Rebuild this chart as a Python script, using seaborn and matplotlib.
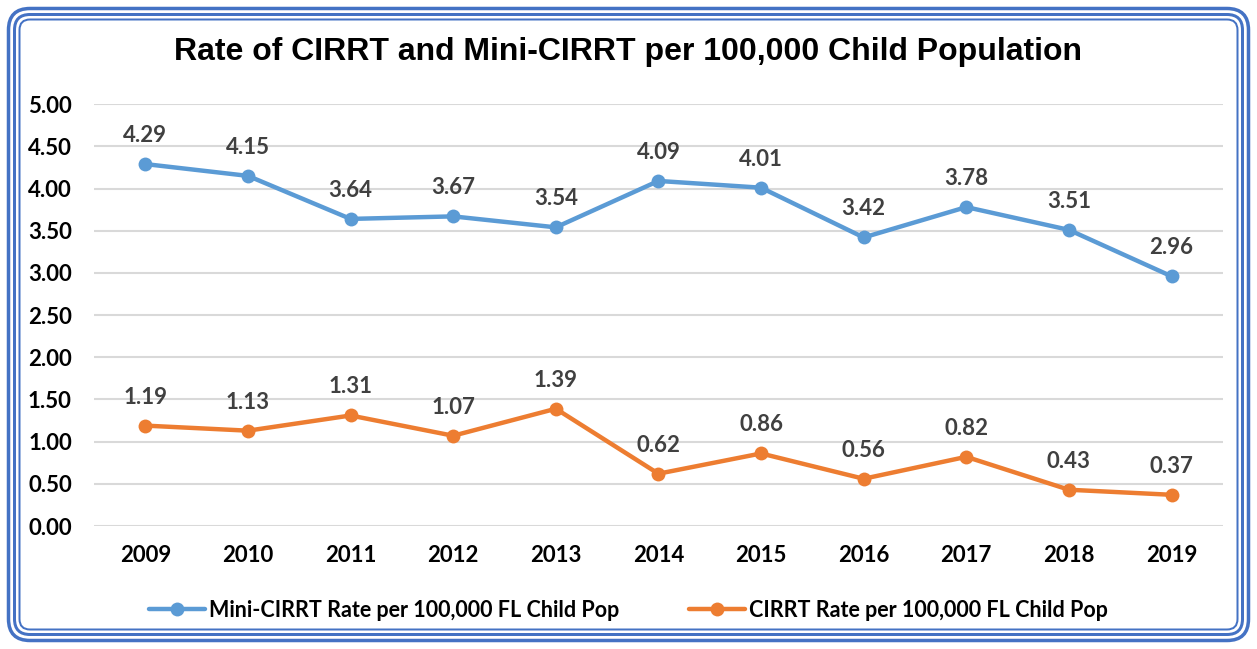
import pandas as pd
import matplotlib
matplotlib.use('Agg')
import matplotlib.pyplot as plt
from matplotlib.patches import FancyBboxPatch
from matplotlib.transforms import IdentityTransform
import seaborn as sns

years = ['2009', '2010', '2011', '2012', '2013', '2014', '2015', '2016', '2017', '2018', '2019']
mini_cirrt = [4.29, 4.15, 3.64, 3.67, 3.54, 4.09, 4.01, 3.42, 3.78, 3.51, 2.96]
cirrt = [1.19, 1.13, 1.31, 1.07, 1.39, 0.62, 0.86, 0.56, 0.82, 0.43, 0.37]
series_names = ['Mini-CIRRT Rate per 100,000 FL Child Pop', 'CIRRT Rate per 100,000 FL Child Pop']
y_ticks = [0, 0.5, 1, 1.5, 2, 2.5, 3, 3.5, 4, 4.5, 5]

df = pd.DataFrame({
    'Year': years * 2,
    'Rate': mini_cirrt + cirrt,
    'Series': [series_names[0]] * len(years) + [series_names[1]] * len(years),
})

sns.set_style('white')
plt.rcParams['font.family'] = ['Lato', 'DejaVu Sans']
plt.rcParams['text.color'] = 'black'
plt.rcParams['xtick.color'] = 'black'
plt.rcParams['ytick.color'] = 'black'
colors = ['#5B9BD5', '#ED7D31']

fig = plt.figure(figsize=(12.57, 6.49), dpi=100)
ax = fig.add_axes([0.0748, 0.1895, 0.898, 0.650])

sns.lineplot(data=df, x='Year', y='Rate', hue='Series', palette=colors,
             marker='o', markersize=10, markeredgewidth=0, linewidth=3.2,
             sort=False, ax=ax, legend=False)

ax.set_xlim(-0.5, len(years) - 0.5)
ax.set_ylim(0, 5)
ax.set_yticks(y_ticks)
ax.set_yticklabels([f'{t:.2f}' for t in y_ticks], fontsize=16, fontweight='bold')
ax.set_xticks(range(len(years)))
ax.set_xticklabels(years, fontsize=16, fontweight='bold')
ax.tick_params(axis='y', length=0, pad=16)
ax.tick_params(axis='x', length=0, pad=14)
ax.grid(axis='y', color='#D9D9D9', linewidth=1.5)
ax.set_axisbelow(True)
for s in ax.spines.values():
    s.set_visible(False)
ax.set_xlabel('')
ax.set_ylabel('')

# data labels
for vals in (mini_cirrt, cirrt):
    for i, v in enumerate(vals):
        ax.annotate(f'{v:.2f}', (i, v), xytext=(0, 13), textcoords='offset points',
                    ha='center', va='bottom', fontsize=16, fontweight='bold', color='#404040')

fig.suptitle('Rate of CIRRT and Mini-CIRRT per 100,000 Child Population',
             x=0.5, y=0.92, va='center', fontsize=23, fontweight='bold', color='black',
             family=['Liberation Sans', 'DejaVu Sans'])

handles = [plt.Line2D([], [], color=c, marker='o', markersize=10, markeredgewidth=0, linewidth=3.2)
           for c in colors]
fig.legend(handles, series_names, loc='center', bbox_to_anchor=(0.5, 0.06), ncol=2,
           frameon=False, prop={'size': 15.5, 'weight': 'bold'}, handlelength=2.6,
           handletextpad=0.2, columnspacing=3.2)

# triple rounded border
W, H = 1257, 649
for off, lw in [(8.5, 3.5), (14.5, 3), (19.5, 2)]:
    box = FancyBboxPatch((off, off), W - 2 * off, H - 2 * off,
                         boxstyle=f'round,pad=0,rounding_size={30 - off}',
                         linewidth=lw * 0.72, edgecolor='#4472C4', facecolor='none',
                         transform=IdentityTransform())
    fig.patches.append(box)

fig.savefig('out.png', dpi=100)
